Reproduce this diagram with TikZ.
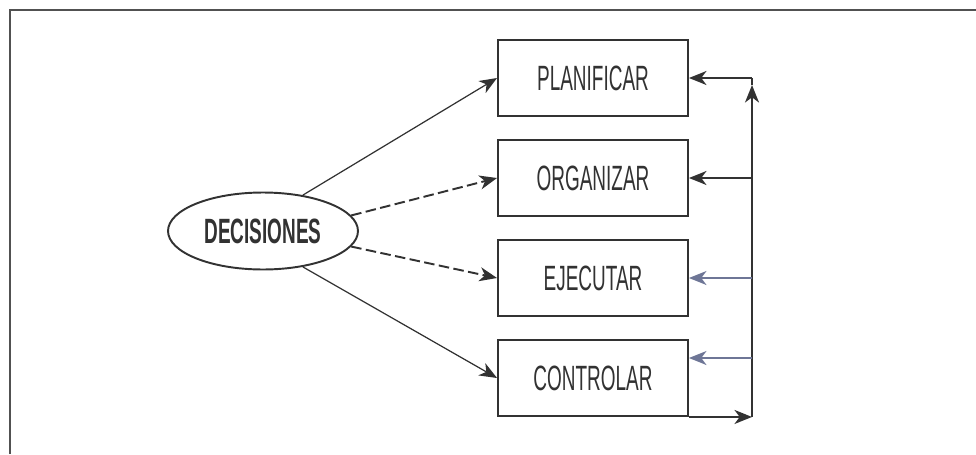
\documentclass[tikz,border=0pt]{standalone}
\usepackage{fontspec}
\usetikzlibrary{arrows.meta,shapes.geometric}
\newfontfamily\condfont[FakeStretch=0.54]{Liberation Sans}
\definecolor{ink}{RGB}{50,50,50}
\definecolor{paleink}{RGB}{110,118,150}

\begin{document}
\begin{tikzpicture}[x=0.02cm, y=0.02cm,
	box/.style={shape=rectangle, draw=ink, line width=1.1pt, minimum width=3.8cm, minimum height=1.52cm, inner sep=0pt, text=ink, font=\condfont\fontsize{20}{21}\selectfont},
	decision/.style={shape=ellipse, draw=ink, line width=1.1pt, minimum width=3.8cm, minimum height=1.54cm, inner sep=0pt, text=ink, font=\condfont\bfseries\fontsize{20}{21}\selectfont},
	tip/.style={-{Stealth[length=10pt, width=8pt, inset=3pt]}},
	thinarrow/.style={tip, draw=ink, line width=0.7pt},
	dasharrow/.style={tip, draw=ink, line width=1.1pt, dash pattern=on 6pt off 2.5pt},
	feed/.style={tip, draw=ink, line width=1pt},
	palefeed/.style={tip, draw=paleink, line width=0.8pt},
	frame/.style={draw=ink!85, line width=1.6pt}]
	% Frame:
	\useasboundingbox (0,0) rectangle (976,454);
	\draw[frame] (10,0) -- (10,444) -- (976,444);
	% Nodes:
	\node[decision] (dec) at (263,223) {DECISIONES};
	\node[box] (pla) at (593,376) {PLANIFICAR};
	\node[box] (org) at (593,276) {ORGANIZAR};
	\node[box] (eje) at (593,176) {EJECUTAR};
	\node[box] (ctl) at (593,76) {CONTROLAR};
	% Decisions to functions:
	\draw[thinarrow] (dec.42) -- (pla.west);
	\draw[dasharrow] (dec.10) -- (org.west);
	\draw[dasharrow] (dec.-10) -- (eje.west);
	\draw[thinarrow] (dec.-42) -- (ctl.west);
	% Feedback loop:
	\coordinate (rb) at (752,38);
	\coordinate (rup) at (752,369);
	\coordinate (rt) at (752,376);
	\coordinate (c4) at (752,96);
	\draw[feed] (ctl.south east) -- (ctl.south east -| rb);
	\draw[feed] (ctl.south east -| rb) -- (rup);
	\draw[ink, line width=1pt] (rup) -- (rt);
	\draw[feed] (rt) -- (pla.east);
	\draw[feed] (org.east -| rb) -- (org.east);
	\draw[palefeed] (eje.east -| rb) -- (eje.east);
	\draw[palefeed] (c4) -- (c4 -| ctl.east);
\end{tikzpicture}
\end{document}
